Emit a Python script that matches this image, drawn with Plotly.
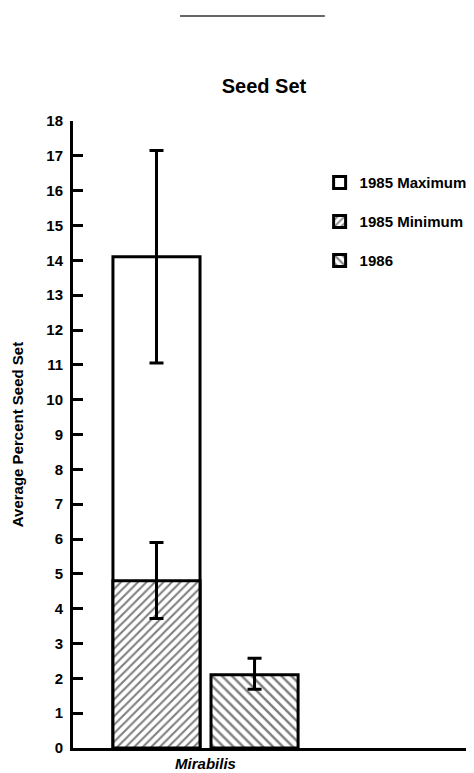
import plotly.graph_objects as go

# ---- data ----
categories = ["Mirabilis"]
series_names = ["1985 Maximum", "1985 Minimum", "1986"]
max_vals = [14.1]
max_upper = [17.15]
max_lower = [11.05]
min_vals = [4.8]
min_upper = [5.9]
min_lower = [3.72]
y86_vals = [2.1]
y86_upper = [2.58]
y86_lower = [1.69]
y_ticks = list(range(0, 19))

FONT = "Liberation Sans, Arial, Helvetica, sans-serif"

# page body has an 8px margin: figure is sized/offset to fill the 474x773 window
W, H = 466, 765


def errs(vals, up, lo):
    return ([u - v for u, v in zip(up, vals)], [v - l for v, l in zip(vals, lo)])


fig = go.Figure()

specs = [
    (series_names[0], max_vals, max_upper, max_lower, "", 6, "a"),
    (series_names[1], min_vals, min_upper, min_lower, "/", 6, "a"),
    (series_names[2], y86_vals, y86_upper, y86_lower, "\\", 7, "b"),
]
for name, vals, up, lo, shape, psize, grp in specs:
    plus, minus = errs(vals, up, lo)
    fig.add_trace(go.Bar(
        x=categories, y=vals, name=name, offsetgroup=grp,
        legendgroup=name,
        marker=dict(color="white",
                    line=dict(color="black", width=3),
                    pattern=dict(shape=shape, fgcolor="black", bgcolor="white",
                                 size=psize, solidity=0.35)),
        error_y=dict(type="data", symmetric=False, array=plus, arrayminus=minus,
                     color="black", thickness=3, width=7),
    ))

fig.update_layout(
    width=W, height=H,
    margin=dict(l=65, r=0, t=113, b=25),
    paper_bgcolor="white", plot_bgcolor="white",
    barmode="group", bargap=0.26, bargroupgap=0.112,
    font=dict(family=FONT, size=15, color="black"),
    title=dict(text="<b>Seed Set</b>", x=256 / W, xref="container", xanchor="center",
               y=1 - 78 / H, yref="container", yanchor="middle",
               font=dict(family=FONT, size=20, color="black")),
    showlegend=True,
    legend=dict(x=0.615, y=0.928, xanchor="left", yanchor="top",
                bgcolor="rgba(0,0,0,0)", traceorder="grouped", tracegroupgap=16.5,
                font=dict(family=FONT, size=15, color="black", weight="bold")),
    xaxis=dict(type="category", range=[-0.5, 1.013], showline=True, linecolor="black",
               linewidth=2.5, ticks="", showgrid=False, zeroline=False,
               tickfont=dict(family=FONT, size=15, color="black", weight="bold", style="italic"),
               automargin=False),
    yaxis=dict(range=[0, 18], tickvals=y_ticks, showline=True, linecolor="black",
               linewidth=3, ticks="inside", ticklen=10, tickwidth=2.5, tickcolor="black",
               showgrid=False, zeroline=False, ticklabelstandoff=4,
               tickfont=dict(family=FONT, size=15, color="black", weight="bold"),
               title=dict(text="Average Percent Seed Set", standoff=20,
                          font=dict(family=FONT, size=15, color="black", weight="bold")),
               automargin=False),
    shapes=[dict(type="line", xref="paper", yref="paper", x0=0.267, x1=0.628,
                 y0=1.1675, y1=1.1675, line=dict(color="#333", width=1.5))],
)

fig.write_html("out.html")
